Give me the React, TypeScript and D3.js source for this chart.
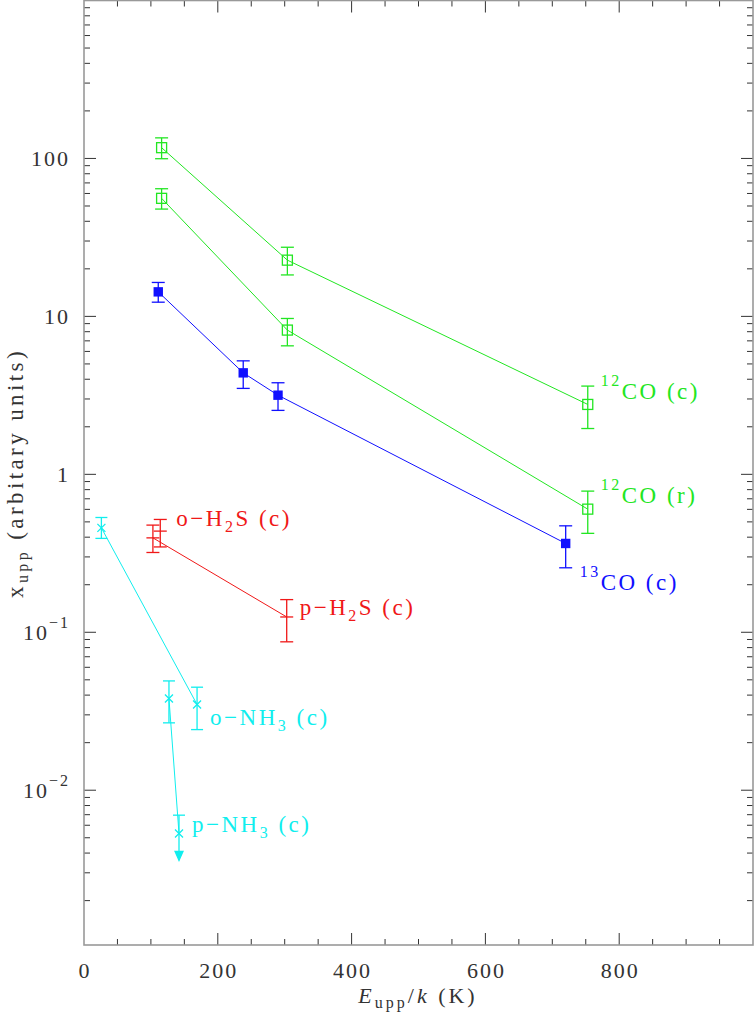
import React from 'react';
import * as d3 from 'd3';

// 12CO (c)
const co12cE = [116, 304, 753];
const co12cX = [117, 22.7, 2.77];
const co12cLo = [99.6, 18.3, 1.95];
const co12cHi = [135, 27.4, 3.62];

// 12CO (r)
const co12rE = [116, 304, 753];
const co12rX = [55.9, 8.19, 0.602];
const co12rLo = [47.8, 6.51, 0.423];
const co12rHi = [64.3, 9.7, 0.783];

// 13CO (c)
const co13cE = [111, 238, 290, 720];
const co13cX = [14.3, 4.39, 3.17, 0.365];
const co13cLo = [12.3, 3.5, 2.54, 0.256];
const co13cHi = [16.4, 5.23, 3.8, 0.472];

// H2S (c)
const h2sE = [103, 303];
const h2sX = [0.396, 0.125];
const h2sLo = [0.32, 0.087];
const h2sHi = [0.477, 0.161];
const oH2sE = [114];
const oH2sX = [0.437];
const oH2sLo = [0.347];
const oH2sHi = [0.518];

// NH3 (c)
const oNh3E = [26, 169];
const oNh3X = [0.458, 0.0349];
const oNh3Lo = [0.393, 0.0242];
const oNh3Hi = [0.533, 0.0449];
const pNh3E = [127, 142];
const pNh3X = [0.0381, 0.00532];
const pNh3Lo = [0.0267, 0.0036]; // last one is an upper limit (arrow)
const pNh3Hi = [0.0492, 0.00695];

const xTicksMajor = [0, 200, 400, 600, 800];
const yTickLabels = [
  { v: 100, base: '100', exp: '' },
  { v: 10, base: '10', exp: '' },
  { v: 1, base: '1', exp: '' },
  { v: 0.1, base: '10', exp: '\u22121' },
  { v: 0.01, base: '10', exp: '\u22122' },
];

const GREEN = '#22e622';
const BLUE = '#1010ff';
const RED = '#f01818';
const CYAN = '#10eeee';
const FONT = 'Liberation Serif, DejaVu Serif, serif';

const x = d3.scaleLinear().domain([0, 1000]).range([84, 753]);
const y = d3.scaleLog().domain([Math.pow(10, -2.98), 1000]).range([945, 0.5]);

type Pt = { e: number; v: number; lo: number; hi: number };
const zip = (e: number[], v: number[], lo: number[], hi: number[]): Pt[] =>
  e.map((d, i) => ({ e: d, v: v[i], lo: lo[i], hi: hi[i] }));

const line = d3.line<Pt>().x(d => x(d.e)).y(d => y(d.v));

const ErrBar = ({ d, color, cap }: { d: Pt; color: string; cap: number }) => (
  <g stroke={color} strokeWidth={1.3}>
    <line x1={x(d.e)} x2={x(d.e)} y1={y(d.lo)} y2={y(d.hi)} />
    <line x1={x(d.e) - cap} x2={x(d.e) + cap} y1={y(d.lo)} y2={y(d.lo)} />
    <line x1={x(d.e) - cap} x2={x(d.e) + cap} y1={y(d.hi)} y2={y(d.hi)} />
  </g>
);

const App: React.FC = () => {
  const co12c = zip(co12cE, co12cX, co12cLo, co12cHi);
  const co12r = zip(co12rE, co12rX, co12rLo, co12rHi);
  const co13c = zip(co13cE, co13cX, co13cLo, co13cHi);
  const h2s = zip(h2sE, h2sX, h2sLo, h2sHi);
  const oH2s = zip(oH2sE, oH2sX, oH2sLo, oH2sHi);
  const oNh3 = zip(oNh3E, oNh3X, oNh3Lo, oNh3Hi);
  const pNh3 = zip(pNh3E, pNh3X, pNh3Lo, pNh3Hi);

  const [x0, x1] = x.range();
  const [y0, y1] = y.range();

  // log minor/major ticks
  const yTicks: { v: number; major: boolean }[] = [];
  for (let p = -3; p <= 3; p++) {
    for (let m = 1; m <= 9; m++) {
      const v = m * Math.pow(10, p);
      if (v >= y.domain()[0] && v < 1000) yTicks.push({ v, major: m === 1 });
    }
  }
  const xTicks = d3.range(50, 1000, 50).map(v => ({ v, major: v % 200 === 0 }));

  const lbl = { fontFamily: FONT, fontSize: 23, letterSpacing: 2.5 };

  const last = (a: Pt[]) => a[a.length - 1];

  return (
    <div style={{ position: 'absolute', left: 0, top: 0 }}>
      <svg width={754} height={1014} style={{ display: 'block', background: '#fff' }}>
        {/* ticks */}
        <g stroke="#333" strokeWidth={1}>
          {yTicks.map((t, i) => {
            const len = t.major ? 12 : 6;
            return (
              <g key={'y' + i}>
                <line x1={x0} x2={x0 + len} y1={y(t.v)} y2={y(t.v)} />
                <line x1={x1} x2={x1 - len} y1={y(t.v)} y2={y(t.v)} />
              </g>
            );
          })}
          {xTicks.map((t, i) => {
            const len = t.major ? 12 : 6;
            return (
              <g key={'x' + i}>
                <line x1={x(t.v)} x2={x(t.v)} y1={y0} y2={y0 - len} />
                <line x1={x(t.v)} x2={x(t.v)} y1={y1} y2={y1 + len} />
              </g>
            );
          })}
        </g>
        {/* frame */}
        <rect x={x0} y={y1} width={x1 - x0} height={y0 - y1} fill="none" stroke="#999" strokeWidth={1.6} />

        {/* tick labels */}
        <g style={{ fontFamily: FONT, fontSize: 22, letterSpacing: 2 }} fill="#333">
          {xTicksMajor.map(v => (
            <text key={v} x={x(v) + 1} y={978} textAnchor="middle">{v}</text>
          ))}
          {yTickLabels.map(t => (
            <text key={t.v} x={70} y={y(t.v) + 7.5} textAnchor="end">
              {t.base}
              {t.exp && <tspan style={{ fontSize: 16 }} dy={-12}>{t.exp}</tspan>}
            </text>
          ))}
        </g>

        {/* axis titles */}
        <text x={418} y={1003} textAnchor="middle" style={{ fontFamily: FONT, fontSize: 22, letterSpacing: 3 }} fill="#333">
          <tspan fontStyle="italic">E</tspan>
          <tspan style={{ fontSize: 16 }} dy={5}>upp</tspan>
          <tspan dy={-5}>/</tspan>
          <tspan fontStyle="italic">k</tspan>
          <tspan> (K)</tspan>
        </text>
        <text transform="translate(23,473) rotate(-90)" textAnchor="middle" style={{ fontFamily: FONT, fontSize: 23, letterSpacing: 3.4 }} fill="#333">
          <tspan>x</tspan>
          <tspan style={{ fontSize: 16 }} dy={5}>upp</tspan>
          <tspan dy={-5}> (arbitary units)</tspan>
        </text>

        {/* 12CO (c) */}
        <path d={line(co12c) || ''} fill="none" stroke={GREEN} strokeWidth={1} />
        {co12c.map((d, i) => <ErrBar key={i} d={d} color={GREEN} cap={6.5} />)}
        {co12c.map((d, i) => (
          <rect key={i} x={x(d.e) - 5} y={y(d.v) - 5} width={10} height={10} fill="none" stroke={GREEN} strokeWidth={1.3} />
        ))}
        {/* 12CO (r) */}
        <path d={line(co12r) || ''} fill="none" stroke={GREEN} strokeWidth={1} />
        {co12r.map((d, i) => <ErrBar key={i} d={d} color={GREEN} cap={6.5} />)}
        {co12r.map((d, i) => (
          <rect key={i} x={x(d.e) - 5} y={y(d.v) - 5} width={10} height={10} fill="none" stroke={GREEN} strokeWidth={1.3} />
        ))}
        {/* 13CO (c) */}
        <path d={line(co13c) || ''} fill="none" stroke={BLUE} strokeWidth={1} />
        {co13c.map((d, i) => <ErrBar key={i} d={d} color={BLUE} cap={6.5} />)}
        {co13c.map((d, i) => (
          <rect key={i} x={x(d.e) - 4.7} y={y(d.v) - 4.7} width={9.4} height={9.4} fill={BLUE} />
        ))}
        {/* H2S */}
        <path d={line(h2s) || ''} fill="none" stroke={RED} strokeWidth={1} />
        {[...h2s, ...oH2s].map((d, i) => (
          <g key={i}>
            <ErrBar d={d} color={RED} cap={6.5} />
            <line x1={x(d.e) - 6.5} x2={x(d.e) + 6.5} y1={y(d.v)} y2={y(d.v)} stroke={RED} strokeWidth={1.3} />
          </g>
        ))}
        {/* NH3 */}
        <path d={line(oNh3) || ''} fill="none" stroke={CYAN} strokeWidth={1} />
        <path d={line(pNh3) || ''} fill="none" stroke={CYAN} strokeWidth={1} />
        {[...oNh3, pNh3[0]].map((d, i) => <ErrBar key={i} d={d} color={CYAN} cap={6} />)}
        {(() => {
          const d = last(pNh3);
          const cx = x(d.e);
          const tip = y(d.lo);
          return (
            <g stroke={CYAN} strokeWidth={1.3}>
              <line x1={cx} x2={cx} y1={y(d.hi)} y2={tip} />
              <line x1={cx - 6} x2={cx + 6} y1={y(d.hi)} y2={y(d.hi)} />
              <path d={`M${cx - 4},${tip - 9} L${cx},${tip} L${cx + 4},${tip - 9} Z`} fill={CYAN} />
            </g>
          );
        })()}
        {[...oNh3, ...pNh3].map((d, i) => (
          <path key={i} d={`M${x(d.e) - 4},${y(d.v) - 4}L${x(d.e) + 4},${y(d.v) + 4}M${x(d.e) - 4},${y(d.v) + 4}L${x(d.e) + 4},${y(d.v) - 4}`} stroke={CYAN} strokeWidth={1.3} />
        ))}

        {/* labels */}
        <text x={x(last(co12c).e) + 13} y={y(last(co12c).v) - 5} fill={GREEN} style={lbl}>
          <tspan style={{ fontSize: 16 }} dy={-13}>12</tspan>
          <tspan dy={13}>CO (c)</tspan>
        </text>
        <text x={x(last(co12r).e) + 13} y={y(last(co12r).v) - 6} fill={GREEN} style={lbl}>
          <tspan style={{ fontSize: 16 }} dy={-13}>12</tspan>
          <tspan dy={13}>CO (r)</tspan>
        </text>
        <text x={x(last(co13c).e) + 14} y={y(last(co13c).v) + 47} fill={BLUE} style={lbl}>
          <tspan style={{ fontSize: 16 }} dy={-13}>13</tspan>
          <tspan dy={13}>CO (c)</tspan>
        </text>
        <text x={x(oH2s[0].e) + 16} y={y(oH2s[0].v) - 5} fill={RED} style={lbl}>
          <tspan>o{'\u2212'}H</tspan>
          <tspan style={{ fontSize: 16 }} dy={6}>2</tspan>
          <tspan dy={-6}>S (c)</tspan>
        </text>
        <text x={x(last(h2s).e) + 13} y={y(last(h2s).v) - 2} fill={RED} style={lbl}>
          <tspan>p{'\u2212'}H</tspan>
          <tspan style={{ fontSize: 16 }} dy={6}>2</tspan>
          <tspan dy={-6}>S (c)</tspan>
        </text>
        <text x={x(last(oNh3).e) + 13} y={y(last(oNh3).v) + 21} fill={CYAN} style={lbl}>
          <tspan>o{'\u2212'}NH</tspan>
          <tspan style={{ fontSize: 16 }} dy={6}>3</tspan>
          <tspan dy={-6}> (c)</tspan>
        </text>
        <text x={x(last(pNh3).e) + 13} y={y(last(pNh3).v) - 2} fill={CYAN} style={lbl}>
          <tspan>p{'\u2212'}NH</tspan>
          <tspan style={{ fontSize: 16 }} dy={6}>3</tspan>
          <tspan dy={-6}> (c)</tspan>
        </text>
      </svg>
    </div>
  );
};

export default App;
